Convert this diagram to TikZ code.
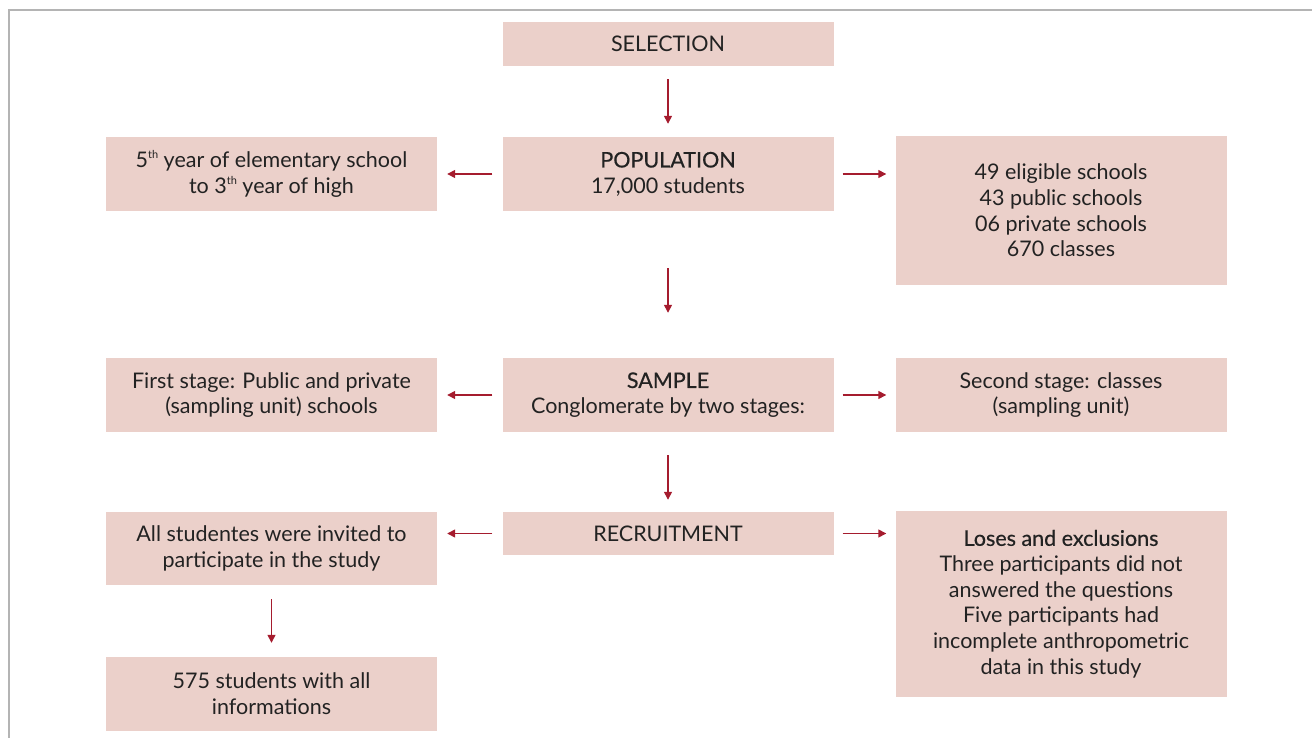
\documentclass[tikz,border=0pt]{standalone}
\usepackage{fontspec}
\setmainfont{Lato}
\newfontfamily\medfont{Lato}[FakeBold=0.5]
\usetikzlibrary{arrows.meta}
\definecolor{boxfill}{HTML}{EBD0CA}
\definecolor{arrred}{HTML}{A51C2E}
\definecolor{txt}{HTML}{222222}
\definecolor{frame}{HTML}{B4B4B4}
\newcommand{\mysup}[1]{\raisebox{0.42em}{\fontsize{11}{11}\selectfont #1}}
\tikzset{
  box/.style={fill=boxfill, draw=none, minimum width=331pt, inner sep=0pt, align=center, text=txt,
    font=\fontsize{21.5}{25.7}\selectfont},
  arr/.style={draw=arrred, line width=1.4pt, -{Triangle[length=8pt,width=8pt]}}
}
\begin{document}
\begin{tikzpicture}[x=1pt,y=-1pt]
\useasboundingbox (0,0) rectangle (1312,738);
\draw[frame, line width=1.5pt] (9,740) -- (9,10) -- (1314,10);
\node[box, minimum height=44pt] (sel) at (668,44) {SELECTION};
\node[box, minimum height=74pt] (pop) at (668,174) {{\medfont POPULATION}\\17,000 students};
\node[box, minimum height=74pt] (l1) at (271.5,174) {5\mysup{th} year of elementary school\\to 3\mysup{th} year of high};
\node[box, minimum height=149pt] (r1) at (1061,210.5) {49 eligible schools\\43 public schools\\06 private schools\\670 classes};
\node[box, minimum height=74pt] (samp) at (668,395) {{\medfont SAMPLE}\\Conglomerate by two stages:};
\node[box, minimum height=74pt] (l2) at (271.5,395) {First stage: Public and private\\(sampling unit) schools};
\node[box, minimum height=74pt] (r2) at (1061,395) {Second stage: classes\\(sampling unit)};
\node[box, minimum height=43pt] (rec) at (668,533.5) {RECRUITMENT};
\node[box, minimum height=73pt] (l3) at (271.5,548.5) {All studentes were invited to\\participate in the study};
\node[box, minimum height=186pt] (r3) at (1061,604) {{\medfont Loses and exclusions}\\Three participants did not\\answered the questions\\Five participants had\\incomplete anthropometric\\data in this study};
\node[box, minimum height=74pt] (l4) at (271.5,694) {575 students with all\\informations};
\draw[arr, shorten <=13pt, shorten >=13pt] (sel.south) -- (pop.north);
\draw[arr, shorten <=10pt, shorten >=10pt] (pop.west) -- (l1.east);
\draw[arr, shorten <=9pt, shorten >=9pt] (pop.east) -- (pop.east -| r1.west);
\draw[arr, shorten <=57pt, shorten >=45pt] (pop.south) -- (samp.north);
\draw[arr, shorten <=10pt, shorten >=10pt] (samp.west) -- (l2.east);
\draw[arr, shorten <=9pt, shorten >=9pt] (samp.east) -- (r2.west);
\draw[arr, shorten <=23pt, shorten >=12pt] (samp.south) -- (rec.north);
\draw[arr, shorten <=10pt, shorten >=10pt] (rec.west) -- (rec.west -| l3.east);
\draw[arr, shorten <=9pt, shorten >=9pt] (rec.east) -- (rec.east -| r3.west);
\draw[arr, shorten <=14pt, shorten >=14pt] (l3.south) -- (l4.north);
\end{tikzpicture}
\end{document}
